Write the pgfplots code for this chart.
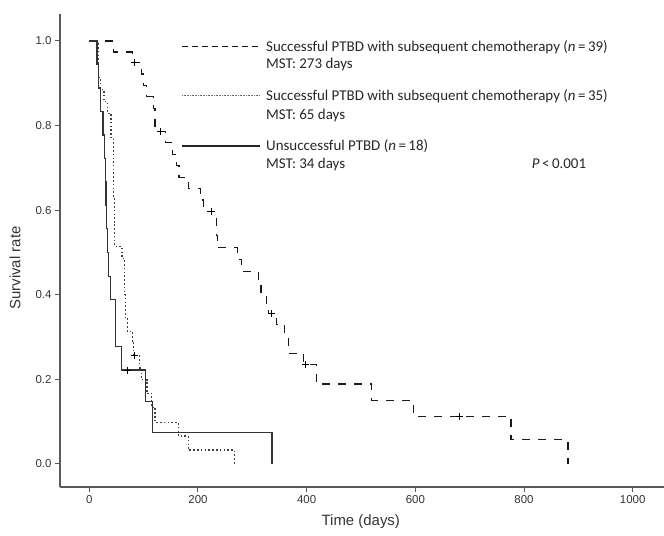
\documentclass[border=0pt]{standalone}
\usepackage{fontspec}
\setmainfont{Liberation Sans}
\newfontfamily\calibri{Carlito}
\usepackage{pgfplots}
\pgfplotsset{compat=1.18}

% Kaplan-Meier curves (day, survival after the step)
\pgfplotstableread{
day surv
0 1.0
45 0.974
79 0.949
96 0.922
100 0.895
106 0.868
118 0.841
121 0.787
140 0.760
153 0.732
160 0.705
165 0.678
183 0.651
204 0.624
210 0.597
234 0.540
236 0.511
272 0.483
280 0.455
311 0.430
316 0.405
326 0.380
330 0.356
345 0.330
360 0.304
366 0.262
395 0.236
418 0.189
520 0.151
596 0.113
776 0.057
881 0
}\chemo

\pgfplotstableread{
day surv
0 1.0
17 0.914
21 0.886
27 0.857
33 0.829
40 0.771
44 0.714
45 0.629
46 0.571
47 0.514
60 0.486
65 0.400
66 0.343
70 0.314
79 0.286
82 0.257
93 0.227
96 0.199
106 0.167
115 0.133
121 0.098
164 0.066
182 0.033
267 0
}\nochemo

\pgfplotstableread{
day surv
0 1.0
14 0.944
17 0.889
21 0.833
25 0.778
28 0.722
30 0.667
31 0.611
32 0.556
34 0.5
36 0.444
39 0.389
48 0.278
59 0.222
103 0.148
116 0.074
336 0
}\unsucc

\begin{document}
\begin{tikzpicture}
\path[use as bounding box] (-60bp,-49bp) rectangle (604bp,487bp);
\begin{axis}[
  at={(0,0)}, anchor=south west,
  scale only axis, width=604bp, height=473bp,
  xmin=-53.9, xmax=1057.6, ymin=-0.0544, ymax=1.0638,
  axis x line=bottom, axis y line=left,
  axis line style={-, line width=1.3pt, color=black!65},
  xtick={0,200,...,1000}, ytick={0,0.2,...,1},
  tick align=outside, major tick length=5bp,
  tick style={line width=1pt, color=black!65},
  minor tick num=0,
  ticklabel style={font=\fontsize{11.5}{13}\selectfont, color=black!80},
  /pgf/number format/assume math mode=true,
  yticklabel style={/pgf/number format/.cd, fixed, fixed zerofill, precision=1},
  xticklabel style={/pgf/number format/.cd, fixed, 1000 sep={}},
  xlabel={Time (days)}, ylabel={Survival rate},
  label style={font=\fontsize{15}{17}\selectfont, color=black!80},
  xlabel style={at={(axis description cs:0.498,-0.074)}, anchor=center},
  ylabel style={at={(axis description cs:-0.0745,0.463)}, anchor=center},
  clip=false,
]
\addplot[const plot, black!90, line width=1.1pt, dash pattern=on 8bp off 8bp] table[x=day, y=surv] {\chemo};
\addplot[const plot, black!75, line width=1.3pt, dash pattern=on 1.6bp off 2.2bp] table[x=day, y=surv] {\nochemo};
\addplot[const plot, black!80, line width=1.3pt] table[x=day, y=surv] {\unsucc};
% censored observations
\addplot[only marks, mark=+, mark size=3.5bp, black, line width=1pt] coordinates {
(84,0.949)(131,0.787)(224,0.597)(336,0.356)(398,0.236)(681,0.113)
(71,0.222)(84,0.257)
};
\end{axis}
% legend (drawn by hand: two-line entries, sample beside the first line)
\draw[black!90, line width=1pt, dash pattern=on 6bp off 4bp] (122bp,440bp) -- (200bp,440bp);
\draw[black!60, line width=1pt, dash pattern=on 0.8bp off 0.8bp] (122bp,391bp) -- (200bp,391bp);
\draw[black!85, line width=1.3pt] (122bp,341bp) -- (200bp,341bp);
\begin{scope}[every node/.style={anchor=base west, inner sep=0pt, font=\calibri\fontsize{15}{17}\selectfont, text=black!85}]
\node at (206bp,435bp) {Successful PTBD with subsequent chemotherapy (\textit{n}\,=\,39)};
\node at (206bp,418.7bp) {MST: 273 days};
\node at (206bp,386bp) {Successful PTBD with subsequent chemotherapy (\textit{n}\,=\,35)};
\node at (206bp,367.7bp) {MST: 65 days};
\node at (206bp,336bp) {Unsuccessful PTBD (\textit{n}\,=\,18)};
\node at (206bp,318.7bp) {MST: 34 days};
\node at (471.7bp,318.7bp) {\textit{P}\,<\,0.001};
\end{scope}
\end{tikzpicture}
\end{document}
